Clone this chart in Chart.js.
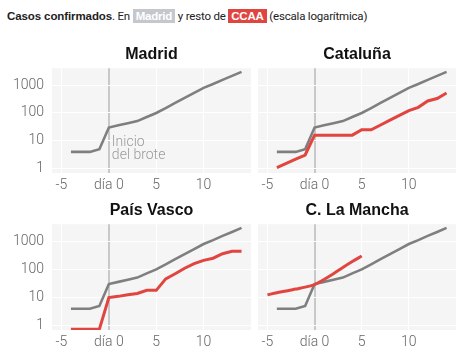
<!DOCTYPE html>
<html><head><meta charset="utf-8">
<script src="https://cdn.jsdelivr.net/npm/chart.js@4"></script>
<style>
html,body{margin:0;padding:0;background:#fff;}
body{width:474px;height:356px;position:relative;overflow:hidden;font-family:"Liberation Sans",Arial,sans-serif;}
#hdr{position:absolute;left:7px;top:9px;font-size:11.5px;color:#222;white-space:nowrap;font-family:Roboto,"Liberation Sans",sans-serif;letter-spacing:-0.2px;}
#hdr b{font-family:"Liberation Sans",Arial,sans-serif;letter-spacing:-0.1px;}
#hdr .tag{color:#fff;font-weight:bold;padding:1px 3px;font-family:"Liberation Sans",Arial,sans-serif;letter-spacing:-0.2px;}
#hdr .g{background:#c4c8cc;}
#hdr .r{background:#e0453f;}
canvas{position:absolute;}
</style></head>
<body>
<div id="hdr"><b>Casos confirmados</b>. En <span class="tag g">Madrid</span> y resto de <span class="tag r">CCAA</span> (escala logarítmica)</div>
<canvas id="c0" width="251" height="155" style="left:0;top:40px"></canvas>
<canvas id="c1" width="204" height="155" style="left:252px;top:40px"></canvas>
<canvas id="c2" width="251" height="156" style="left:0;top:196px"></canvas>
<canvas id="c3" width="204" height="156" style="left:252px;top:196px"></canvas>
<script>
// ---- data ----
const xTickValues = [-5, 0, 5, 10];
const xTickLabels = ['-5', 'día 0', '5', '10'];
const yTickValues = [1, 10, 100, 1000];

const madridDays  = [-4,-3,-2,-1,0,1,2,3,4,5,6,7,8,9,10,11,12,13,14];
const madridCases = [4,4,4,5,30,36,43,51,72,100,150,230,350,530,800,1100,1550,2150,3000];

const catalunaDays  = [-4,-3,-2,-1,0,1,2,3,4,5,6,7,8,9,10,11,12,13,14];
const catalunaCases = [1.1,1.55,2.2,3.1,16,16,16,16,16,25,25,37,55,82,121,160,270,330,520];

const paisVascoDays  = [-4,-3,-2,-1,0,1,2,3,4,5,6,7,8,9,10,11,12,13,14];
const paisVascoCases = [0.75,0.75,0.75,0.75,10,11,12.5,14,18,18,46,70,110,160,210,250,360,440,440];

const laManchaDays  = [-5,-4,-3,-2,-1,0,1,2,3,4,5];
const laManchaCases = [12.5,14.8,17,20,23.5,29,44,70,117,190,298];

const panelTitles = ['Madrid', 'Cataluña', 'País Vasco', 'C. La Mancha'];
const annotationLines = ['Inicio', 'del brote'];

// ---- styling ----
const GREY = '#7f7f7f', RED = '#e0453f', BG = '#f5f5f5';
const TICK_FONT = {family: 'Roboto, "Liberation Sans", sans-serif', size: 14, weight: '300'};

function pts(xs, ys){ return xs.map((x,i)=>({x:x, y:ys[i]})); }

const bgPlugin = {
  id: 'areaBg',
  beforeDraw(chart){
    const a = chart.chartArea, ctx = chart.ctx;
    ctx.save(); ctx.fillStyle = BG;
    ctx.fillRect(a.left, a.top, a.right - a.left, a.bottom - a.top);
    ctx.restore();
  }
};
const notePlugin = {
  id: 'note',
  afterDatasetsDraw(chart, args, opts){
    if(!opts.show) return;
    const ctx = chart.ctx, xs = chart.scales.x, ys = chart.scales.y;
    ctx.save();
    ctx.font = '300 14px Roboto, "Liberation Sans", sans-serif';
    ctx.fillStyle = '#9a9a9a'; ctx.textBaseline = 'middle'; ctx.textAlign = 'left';
    const x0 = xs.getPixelForValue(0) + 3;
    ctx.fillText(annotationLines[0], x0, ys.getPixelForValue(8.7));
    ctx.fillText(annotationLines[1], x0, ys.getPixelForValue(2.9));
    ctx.restore();
  }
};

function makeChart(id, title, redData, showY, note, padRight){
  const datasets = [{
    data: pts(madridDays, madridCases), borderColor: GREY, borderWidth: 2.6,
    pointRadius: 0, order: 1, tension: 0
  }];
  if(redData){
    datasets.push({ data: redData.data, borderColor: RED, borderWidth: 3,
      pointRadius: 0, order: 0, tension: redData.smooth ? 0.4 : 0,
      cubicInterpolationMode: redData.smooth ? 'monotone' : 'default' });
  }
  return new Chart(document.getElementById(id), {
    type: 'line',
    data: { datasets },
    options: {
      responsive: false, animation: false,
      layout: { padding: { left: 0, right: padRight, top: 0, bottom: 0 } },
      plugins: {
        legend: { display: false }, tooltip: { enabled: false },
        title: { display: true, text: title, fullSize: false, color: '#111',
          font: { family: '"Liberation Sans", Arial, sans-serif', size: 16, weight: 'bold' },
          padding: { top: 5, bottom: 4 } },
        note: { show: note }
      },
      scales: {
        x: {
          type: 'linear', min: -6, max: 15,
          afterBuildTicks: s => { s.ticks = xTickValues.map(v => ({value: v})); },
          afterFit: s => { s.height = 22; },
          ticks: { color: '#666', font: TICK_FONT, padding: 4, maxRotation: 0, autoSkip: false,
            callback: v => { const i = xTickValues.indexOf(v); return i >= 0 ? xTickLabels[i] : ''; } },
          grid: { drawTicks: false,
            color: c => (c.tick && c.tick.value === 0) ? '#c8c8c8' : '#ffffff',
            lineWidth: c => (c.tick && c.tick.value === 0) ? 2 : 1 },
          border: { display: false }
        },
        y: {
          type: 'logarithmic', min: 0.72, max: 4050,
          afterBuildTicks: s => { s.ticks = yTickValues.map(v => ({value: v})); },
          afterFit: s => { s.width = showY ? 52 : 6; },
          ticks: { display: showY, color: '#666', font: TICK_FONT, padding: 8,
            callback: v => String(v) },
          grid: { drawTicks: false, color: '#ffffff', lineWidth: 1 },
          border: { display: false }
        }
      }
    },
    plugins: [bgPlugin, notePlugin]
  });
}

makeChart('c0', panelTitles[0], null, true, true, 0);
makeChart('c1', panelTitles[1], {data: pts(catalunaDays, catalunaCases)}, false, false, 0);
makeChart('c2', panelTitles[2], {data: pts(paisVascoDays, paisVascoCases)}, true, false, 0);
makeChart('c3', panelTitles[3], {data: pts(laManchaDays, laManchaCases), smooth: true}, false, false, 0);
</script>
</body></html>
